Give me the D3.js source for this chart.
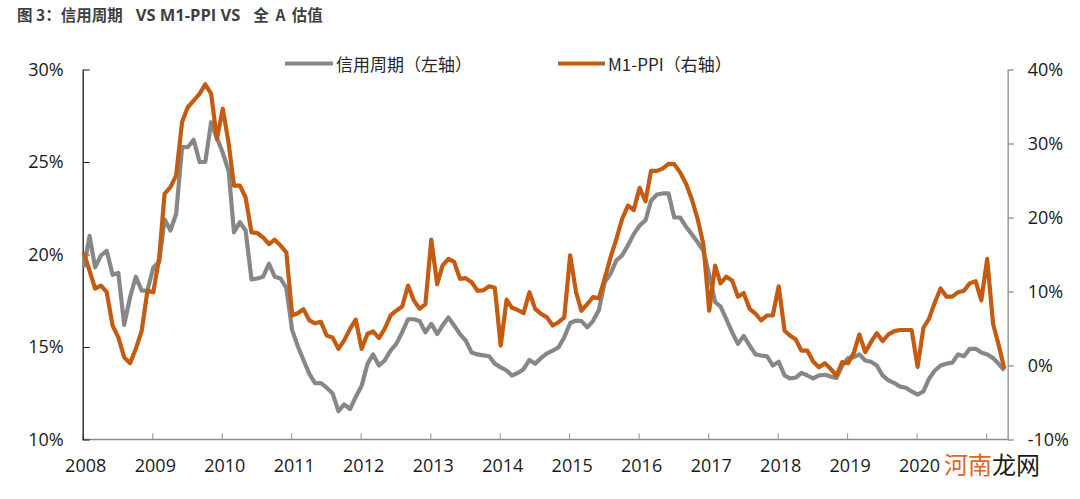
<!DOCTYPE html>
<html>
<head>
<meta charset="utf-8">
<script src="https://cdn.jsdelivr.net/npm/d3@7"></script>
<style>
  html, body { margin: 0; padding: 0; background: #fff; }
  svg { display: block; }
</style>
</head>
<body>
<svg id="chart" width="1080" height="499"></svg>
<script>
// ---------------- data ----------------
const startYear = 2008;
const monthCount = 160; // Jan 2008 .. Apr 2021
const yearLabels = ["2008","2009","2010","2011","2012","2013","2014","2015","2016","2017","2018","2019","2020"];
const leftTicks = [10, 15, 20, 25, 30];
const rightTicks = [-10, 0, 10, 20, 30, 40];
const seriesNames = ["信用周期（左轴）", "M1-PPI（右轴）"];
const titleParts = ["图 3：信用周期", "VS M1-PPI VS", "全 A 估值"];

// 信用周期 (left axis, %)
const creditCycle = [
  19.3,21.0,19.3,19.95,20.2,18.9,19.0,16.2,17.7,18.8,18.05,18.05,
  19.3,19.6,21.9,21.3,22.2,25.8,25.8,26.2,25.0,25.0,27.15,26.3,
  25.5,24.5,21.2,21.75,21.3,18.65,18.7,18.8,19.5,18.8,18.7,18.2,
  15.9,15.0,14.3,13.55,13.05,13.05,12.8,12.5,11.53,11.9,11.65,12.3,
  12.9,14.1,14.6,14.0,14.27,14.8,15.17,15.8,16.5,16.5,16.4,15.8,
  16.25,15.7,16.16,16.6,16.16,15.7,15.35,14.7,14.6,14.55,14.5,14.1,
  13.9,13.73,13.46,13.6,13.8,14.3,14.1,14.4,14.66,14.8,14.99,15.53,
  16.3,16.43,16.4,16.07,16.4,17.0,18.5,18.96,19.68,19.95,20.5,21.1,
  21.57,21.84,22.9,23.24,23.3,23.3,22.0,22.0,21.5,21.1,20.66,20.2,
  18.9,17.43,17.2,16.5,15.8,15.17,15.6,15.08,14.6,14.54,14.5,14.0,
  14.2,13.46,13.3,13.35,13.6,13.46,13.3,13.46,13.5,13.4,13.33,14.0,
  14.4,14.45,14.6,14.27,14.2,14.0,13.46,13.2,13.05,12.86,12.8,12.6,
  12.43,12.6,13.28,13.73,14.0,14.1,14.15,14.6,14.5,14.9,14.9,14.7,
  14.6,14.4,14.1,13.73
];

// M1-PPI (right axis, %)
const m1MinusPpi = [
  15.3,12.8,10.4,10.8,9.9,5.4,3.8,1.1,0.3,2.25,4.7,10.1,
  9.9,14.6,23.2,24.1,25.7,32.9,34.9,35.8,36.7,38.0,36.7,30.6,
  34.7,30.0,24.3,24.3,22.7,18.0,17.9,17.3,16.4,17.0,16.2,15.3,
  6.76,7.1,7.6,6.1,5.7,5.9,4.05,3.8,2.25,3.4,4.95,6.2,
  2.25,4.3,4.6,3.7,4.95,6.76,7.4,7.97,10.8,8.8,7.66,8.3,
  17.0,11.0,13.5,14.4,14.0,11.7,11.8,11.26,10.1,10.15,10.7,10.5,
  2.7,8.9,7.8,7.5,7.07,9.9,7.66,6.98,6.5,5.4,5.85,6.5,
  14.9,9.9,7.4,8.3,9.25,9.1,11.7,14.6,17.1,19.8,21.6,21.0,
  24.0,22.2,26.3,26.3,26.6,27.25,27.2,26.1,24.55,22.5,19.8,16.4,
  7.4,13.5,11.1,12.0,11.5,9.3,9.8,7.66,7.0,6.1,6.76,6.76,
  10.7,4.7,4.05,3.5,2.0,2.0,0.55,-0.25,0.3,-0.45,-1.35,0.45,
  0.3,1.8,4.2,1.8,3.15,4.37,3.3,4.2,4.64,4.8,4.8,4.8,
  -0.2,5.1,6.3,8.55,10.4,9.3,9.3,9.9,10.1,11.1,11.4,8.8,
  14.4,5.6,2.9,-0.45
];

const months = d3.range(monthCount).map(i => new Date(startYear, i, 1));

// ---------------- layout ----------------
const plotLeft = 82.7, plotRight = 1007.7, plotTop = 69.5, plotBottom = 439.5;
const GRAY = "#878787", ORANGE = "#c55a11";
const latin = "'Open Sans', 'Noto Sans CJK SC', sans-serif";
const cjk = "'Noto Sans CJK SC', 'Open Sans', sans-serif";

const svg = d3.select("#chart");

const x = d3.scaleTime()
  .domain([new Date(2008, 0, 1), new Date(2021, 0, 1)])
  .range([plotLeft, 986.2]);
const yL = d3.scaleLinear().domain([10, 30]).range([plotBottom, plotTop]);
const yR = d3.scaleLinear().domain([-10, 40]).range([plotBottom, plotTop]);

// title
const title = svg.append("text")
  .attr("x", 17).attr("y", 20.5)
  .attr("fill", "#3f3f3f")
  .style("font-weight", "bold");
title.append("tspan").style("font-family", cjk).style("font-size", "15.5px").text(titleParts[0]);
title.append("tspan").attr("dx", 13).style("font-family", latin).style("font-size", "16.5px").text(titleParts[1]);
title.append("tspan").attr("dx", 13).style("font-family", cjk).style("font-size", "15.5px")
  .style("word-spacing", "3px").text(titleParts[2]);

// bottom axis
const xAxis = d3.axisBottom(x)
  .tickValues(d3.range(2008, 2022).map(yy => new Date(yy, 0, 1)))
  .tickFormat(d => { const yy = d.getFullYear(); return yy <= 2020 ? yearLabels[yy - 2008] : ""; })
  .tickSizeInner(-6).tickSizeOuter(0);
const gx = svg.append("g").attr("transform", `translate(0,${plotBottom})`).call(xAxis);
gx.select(".domain").remove();
gx.selectAll(".tick line").attr("stroke", "#8c8c8c").attr("stroke-width", 1);
gx.selectAll(".tick text")
  .attr("y", 32).attr("dy", 0).attr("dx", 2.5)
  .attr("fill", "#1a1a1a")
  .style("font-family", latin).style("font-size", "18px");
svg.append("line")
  .attr("x1", plotLeft).attr("x2", plotRight)
  .attr("y1", plotBottom).attr("y2", plotBottom)
  .attr("stroke", "#8c8c8c").attr("stroke-width", 1.5);

// left axis
const gl = svg.append("g").attr("transform", `translate(${plotLeft},0)`)
  .call(d3.axisLeft(yL).tickValues(leftTicks).tickFormat(d => d + "%")
    .tickSizeInner(-7).tickSizeOuter(0).tickPadding(19));
gl.select(".domain").attr("stroke", "#1a1a1a").attr("stroke-width", 1.3);
gl.selectAll(".tick line").attr("stroke", "#1a1a1a");
gl.selectAll(".tick text").attr("fill", "#1a1a1a")
  .style("font-family", latin).style("font-size", "18px");

// right axis
const gr = svg.append("g").attr("transform", `translate(${plotRight},0)`)
  .call(d3.axisRight(yR).tickValues(rightTicks).tickFormat(d => d + "%")
    .tickSizeInner(6).tickSizeOuter(0).tickPadding(14));
gr.select(".domain").attr("stroke", "#9a9a9a").attr("stroke-width", 1.5);
gr.selectAll(".tick line").attr("stroke", "#9a9a9a").attr("stroke-width", 1.5);
gr.selectAll(".tick text").attr("fill", "#1a1a1a")
  .style("font-family", latin).style("font-size", "18px");

// lines
const shift = 1;
const lineL = d3.line().x((d, i) => x(months[i]) + shift).y(d => yL(d));
const lineR = d3.line().x((d, i) => x(months[i]) + shift).y(d => yR(d));

svg.append("path").datum(creditCycle)
  .attr("d", lineL).attr("fill", "none")
  .attr("stroke", GRAY).attr("stroke-width", 4.2)
  .attr("stroke-linejoin", "round");
svg.append("path").datum(m1MinusPpi)
  .attr("d", lineR).attr("fill", "none")
  .attr("stroke", ORANGE).attr("stroke-width", 4.2)
  .attr("stroke-linejoin", "round");

// legend
const legend = [
  { name: seriesNames[0], color: GRAY, x0: 285, x1: 333, tx: 336 },
  { name: seriesNames[1], color: ORANGE, x0: 558, x1: 605, tx: 608 }
];
legend.forEach(l => {
  svg.append("line").attr("x1", l.x0).attr("x2", l.x1).attr("y1", 63.5).attr("y2", 63.5)
    .attr("stroke", l.color).attr("stroke-width", 4.2);
  svg.append("text").attr("x", l.tx).attr("y", 70.5)
    .attr("fill", "#262626")
    .style("font-family", cjk).style("font-size", "17px")
    .text(l.name);
});

// watermark
const wm = svg.append("text").attr("x", 944).attr("y", 474)
  .style("font-family", cjk).style("font-size", "24px");
wm.append("tspan").attr("fill", "#e0661f").text("河南");
wm.append("tspan").attr("fill", "#1a1a1a").text("龙网");
</script>
</body>
</html>
